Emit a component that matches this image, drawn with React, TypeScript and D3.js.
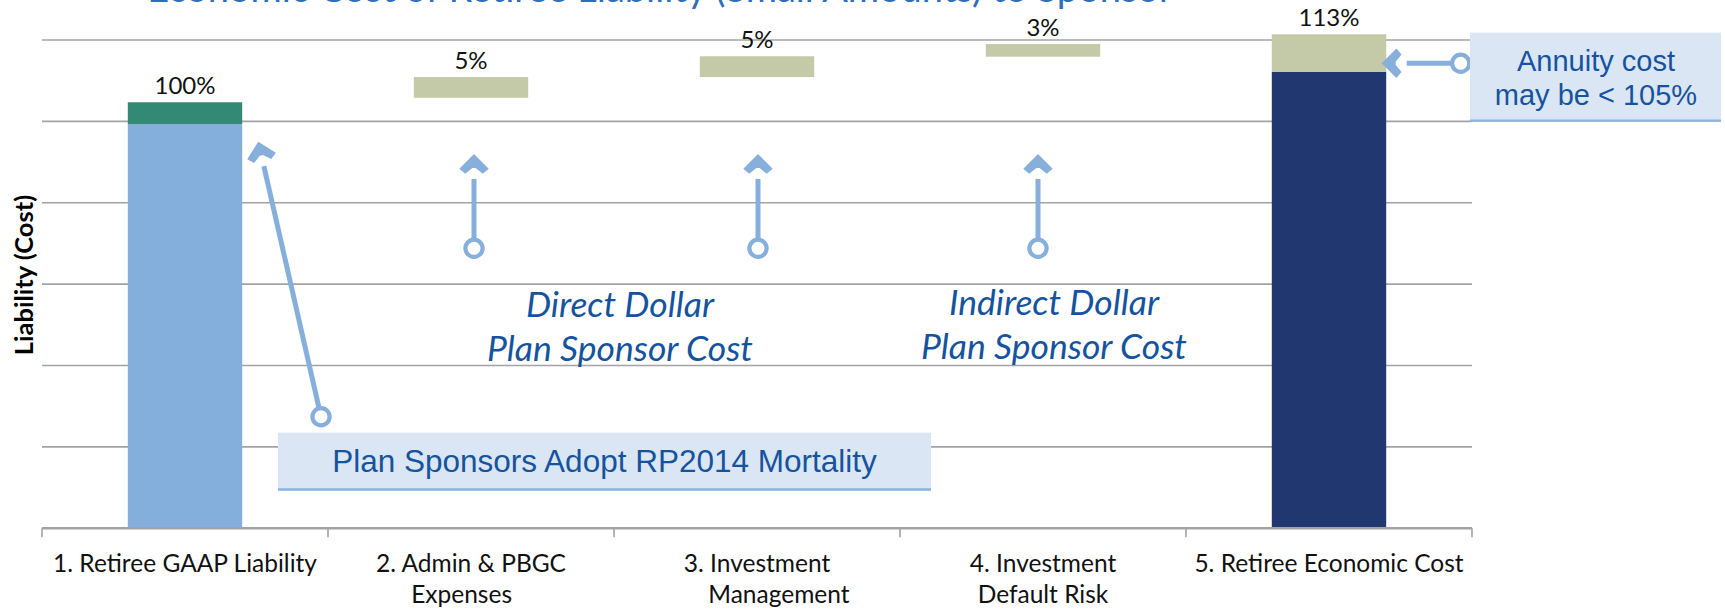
import React from "react";
import * as d3 from "d3";

// Category labels (already split the way the chart wraps them)
const categoryLines = [
  ["1. Retiree GAAP Liability"],
  ["2. Admin & PBGC", "Expenses\u00a0\u00a0\u00a0"],
  ["3. Investment", "\u00a0\u00a0\u00a0\u00a0\u00a0\u00a0\u00a0Management"],
  ["4. Investment", "Default Risk"],
  ["5. Retiree Economic Cost"],
];

// Waterfall series (in % of GAAP liability)
const baseValues = [0, 105.8, 110.9, 115.9, 0]; // invisible
const liabilityValues = [99.3, 0, 0, 0, 112.2];
const addOnValues = [5.4, 5.1, 5.1, 3.1, 9.2];
const valueLabels = ["100%", "5%", "5%", "3%", "113%"];
const yTicks = [0, 20, 40, 60, 80, 100, 120];

const liabilityColors = ["#84AEDB", "none", "none", "none", "#21376F"];
const addOnColors = ["#328A74", "#C4C9A7", "#C4C9A7", "#C4C9A7", "#C4C9A7"];

const W = 1725,
  H = 610;
const left = 42,
  right = 1472,
  bottom = 528.3,
  top = 40;

const labelFont = "Lato, 'Open Sans', sans-serif";
const boxFont = "'Liberation Sans', Arial, sans-serif";
const lineBlue = "#86AFDC";
const textBlue = "#15539F";

/** Chevron arrow head with its tip at (tx, ty), pointing along (dx, dy). */
function chevron(tx: number, ty: number, dx: number, dy: number) {
  const len = Math.hypot(dx, dy);
  const fx = dx / len,
    fy = dy / len;
  const px = -fy,
    py = fx;
  const pts = [
    [0, 0],
    [-14.7, 14.7],
    [-19.8, 8.8],
    [-14, 1.6],
    [-14, -1.6],
    [-19.8, -8.8],
    [-14.7, -14.7],
  ].map(([f, s]) => [tx + f * fx + s * px, ty + f * fy + s * py]);
  return "M" + pts.map((p) => p.join(",")).join("L") + "Z";
}

function Connector({ cx, cy, tx, ty }: { cx: number; cy: number; tx: number; ty: number }) {
  const dx = tx - cx,
    dy = ty - cy;
  const len = Math.hypot(dx, dy);
  const ux = dx / len,
    uy = dy / len;
  const r = 8.6;
  return (
    <g>
      <line
        x1={cx + ux * (r + 1)}
        y1={cy + uy * (r + 1)}
        x2={tx - ux * 25}
        y2={ty - uy * 25}
        stroke={lineBlue}
        strokeWidth={5}
      />
      <path d={chevron(tx, ty, dx, dy)} fill={lineBlue} />
      <circle cx={cx} cy={cy} r={r} fill="white" stroke={lineBlue} strokeWidth={4.2} />
    </g>
  );
}

const arrowShift = [0, 3, 1, -5, 0];

export default function App() {
  const n = categoryLines.length;
  const x = d3
    .scaleBand<number>()
    .domain(d3.range(n))
    .range([left, right])
    .paddingInner(0.6)
    .paddingOuter(0.3);
  const y = d3.scaleLinear().domain([0, 120]).range([bottom, top]);
  const step = x.step();
  const cx = (i: number) => (x(i) as number) + x.bandwidth() / 2;

  return (
    <div style={{ position: "absolute", left: 0, top: 0 }}>
      <svg width={W} height={H} style={{ display: "block" }}>
        {/* title, cut off by the top edge as in the original */}
        <text x={660} y={2} textAnchor="middle" fontFamily={labelFont} fontSize={38} fill="#2F6EBA">
          Economic Cost of Retiree Liability (Small Amounts) to Sponsor
        </text>

        {/* gridlines */}
        {yTicks
          .filter((t) => t > 0)
          .map((t) => (
            <line key={t} x1={left} x2={right} y1={y(t)} y2={y(t)} stroke="#A3A3A3" strokeWidth={1.6} />
          ))}

        {/* bars */}
        {d3.range(n).map((i) => {
          const bx = x(i) as number;
          const base = baseValues[i] + liabilityValues[i];
          const total = base + addOnValues[i];
          return (
            <g key={i}>
              {liabilityValues[i] > 0 && (
                <rect
                  x={bx}
                  width={x.bandwidth()}
                  y={y(baseValues[i] + liabilityValues[i])}
                  height={y(baseValues[i]) - y(baseValues[i] + liabilityValues[i])}
                  fill={liabilityColors[i]}
                />
              )}
              <rect
                x={bx}
                width={x.bandwidth()}
                y={y(total)}
                height={y(base) - y(total)}
                fill={addOnColors[i]}
              />
              <text
                x={cx(i)}
                y={y(total) - 8}
                textAnchor="middle"
                fontFamily={labelFont}
                fontSize={24}
                fill="#111"
              >
                {valueLabels[i]}
              </text>
            </g>
          );
        })}

        {/* x axis */}
        <line x1={left} x2={right} y1={bottom} y2={bottom} stroke="#A3A3A3" strokeWidth={2.6} />
        {d3.range(n + 1).map((i) => (
          <line
            key={i}
            x1={left + i * step}
            x2={left + i * step}
            y1={bottom}
            y2={bottom + 9}
            stroke="#A3A3A3"
            strokeWidth={1.6}
          />
        ))}
        {categoryLines.map((lines, i) => (
          <text
            key={i}
            textAnchor="middle"
            fontFamily={labelFont}
            fontSize={24.5}
            fill="#111"
            style={{ whiteSpace: "pre" }}
          >
            {lines.map((l, k) => (
              <tspan key={k} x={cx(i)} y={572 + k * 31}>
                {l}
              </tspan>
            ))}
          </text>
        ))}

        {/* y axis title */}
        <text
          transform="translate(33,275) rotate(-90)"
          textAnchor="middle"
          fontFamily={labelFont}
          fontWeight="bold"
          fontSize={25.5}
          fill="#000"
        >
          Liability (Cost)
        </text>

        {/* connectors */}
        <Connector cx={321} cy={416.7} tx={258.3} ty={141.7} />
        {[1, 2, 3].map((i) => (
          <Connector key={i} cx={cx(i) + arrowShift[i]} cy={248.3} tx={cx(i) + arrowShift[i]} ty={154} />
        ))}
        <Connector cx={1460.7} cy={63.3} tx={1381.7} ty={63.3} />

        {/* callout boxes */}
        <rect x={278} y={432.7} width={653} height={57} fill="#DAE6F4" />
        <rect x={278} y={488.2} width={653} height={2.6} fill="#8DB4E2" />
        <text x={604.5} y={472} textAnchor="middle" fontFamily={boxFont} fontSize={31.5} fill={textBlue}>
          Plan Sponsors Adopt RP2014 Mortality
        </text>

        <rect x={1470} y={32.7} width={251} height={88} fill="#DAE6F4" />
        <rect x={1470} y={119.5} width={251} height={2.4} fill="#8DB4E2" />
        <text textAnchor="middle" fontFamily={boxFont} fontSize={29} fill={textBlue}>
          <tspan x={1596} y={71}>
            Annuity cost
          </tspan>
          <tspan x={1596} y={105}>
            may be &lt; 105%
          </tspan>
        </text>

        {/* italic annotations */}
        <text textAnchor="middle" fontFamily={labelFont} fontStyle="italic" fontSize={35.5} fill={textBlue}>
          <tspan x={620} y={317}>
            Direct Dollar
          </tspan>
          <tspan x={620} y={361}>
            Plan Sponsor Cost
          </tspan>
        </text>
        <text textAnchor="middle" fontFamily={labelFont} fontStyle="italic" fontSize={35.5} fill={textBlue}>
          <tspan x={1054} y={315}>
            Indirect Dollar
          </tspan>
          <tspan x={1054} y={359}>
            Plan Sponsor Cost
          </tspan>
        </text>
      </svg>
    </div>
  );
}
